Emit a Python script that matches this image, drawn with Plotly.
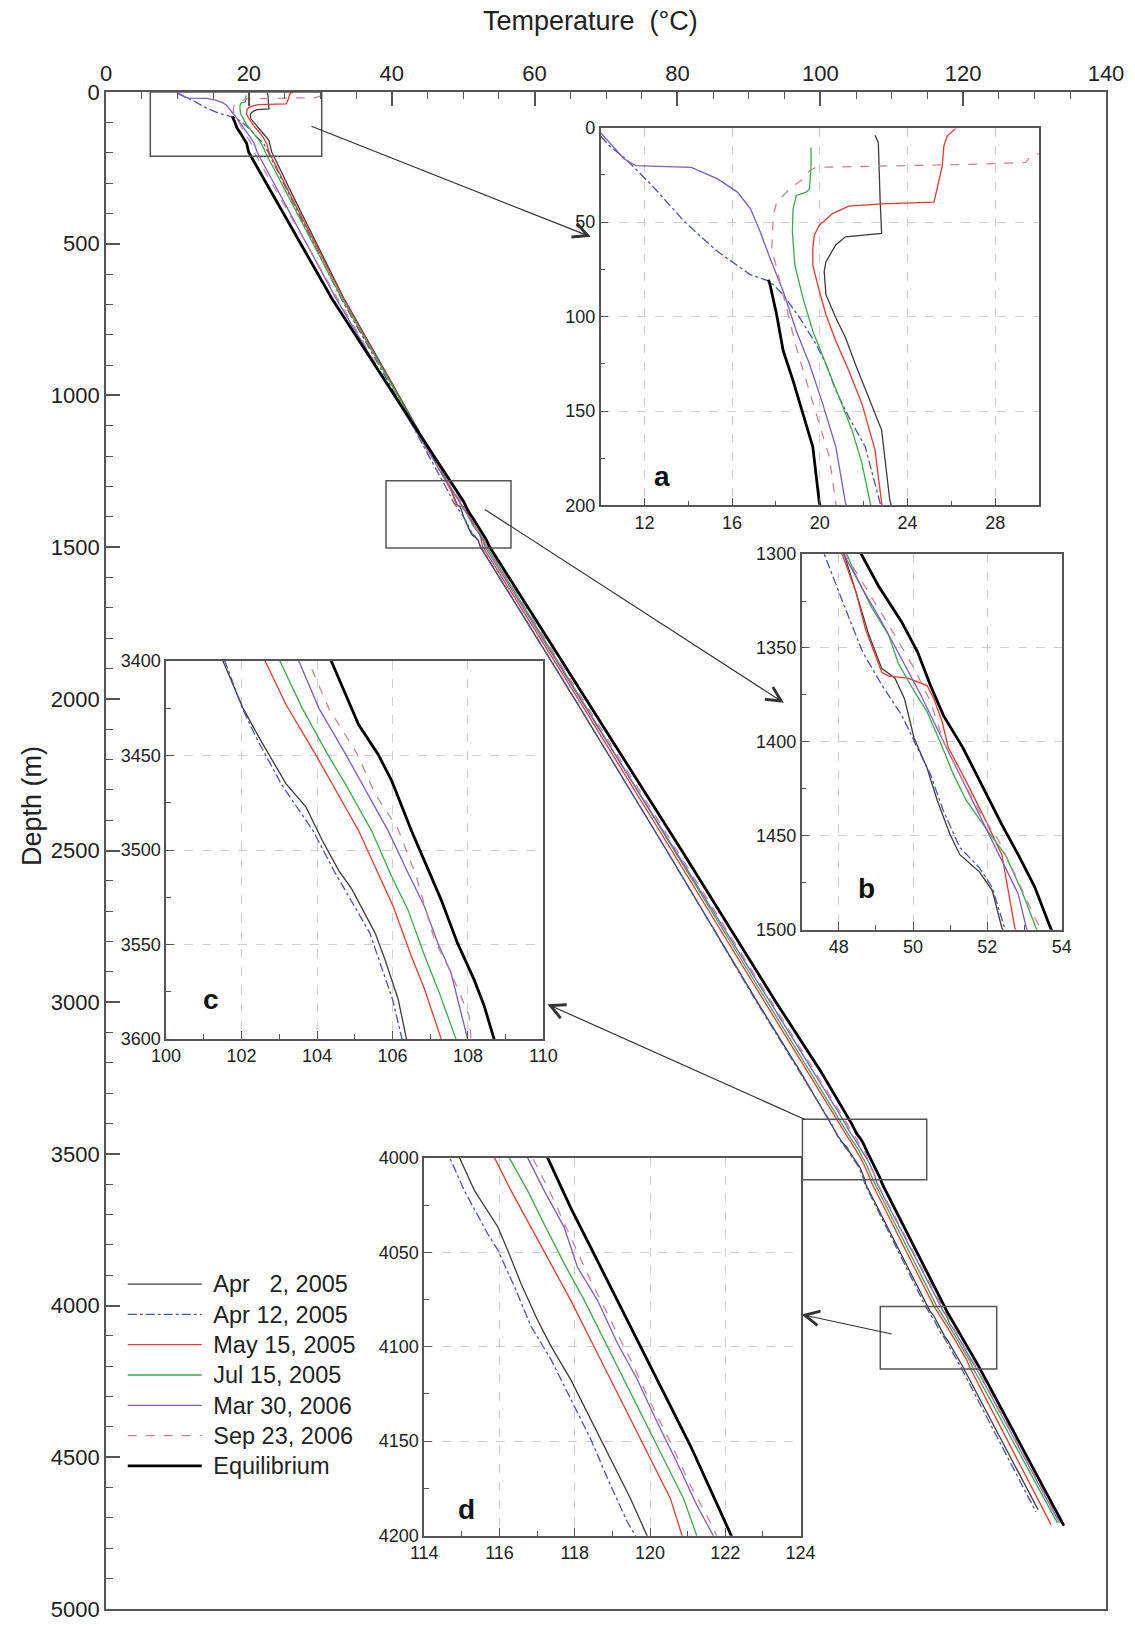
import plotly.graph_objects as go

# ---------------- data (depth in m, temperature in °C) ----------------
series_names = ["Apr\u00a0\u20072, 2005", "Apr 12, 2005", "May 15, 2005", "Jul 15, 2005",
                "Mar 30, 2006", "Sep 23, 2006", "Equilibrium"]

apr2_depth = [4.0, 7.9, 37.6, 56.0, 57.8, 62.1, 70.9, 76.1, 88.4, 100.6, 111.1, 125.1, 142.6, 160.1, 196.9,
              353, 680, 1000,
              1301, 1320, 1343, 1361, 1366, 1377, 1398, 1414, 1431, 1449, 1460, 1469, 1479, 1499,
              2000, 2500, 3000, 3229,
              3401, 3425, 3441, 3465, 3477, 3495, 3511, 3521, 3544, 3558, 3579, 3600,
              4000, 4017.5, 4036.7, 4049, 4066.5, 4085.8, 4099.8, 4117.3, 4145.3, 4166.3, 4180.3, 4200,
              4673]
apr2_temp = [22.52, 22.67, 22.75, 22.82, 21.17, 20.73, 20.28, 20.20, 20.28, 20.73, 21.17, 21.62, 22.22, 22.82, 23.19,
             26.4, 33.3, 41.0,
             48.16, 48.46, 48.81, 49.16, 49.51, 49.77, 50.03, 50.38, 50.65, 50.99, 51.26, 51.78, 52.13, 52.39,
             65.6, 78.5, 91.2, 97.2,
             101.53, 102.04, 102.48, 103.18, 103.70, 104.14, 104.58, 104.93, 105.54, 105.80, 106.15, 106.37,
             114.94, 115.34, 115.96, 116.22, 116.57, 117.01, 117.37, 117.89, 118.60, 119.13, 119.48, 119.92,
             130.5]

apr12_depth = [4.4, 9.6, 16.6, 30.6, 49.9, 65.6, 77.9, 81.4, 88.4, 100.6, 114.6, 125.1, 139.1, 153.1, 168.9, 196.9,
               680, 1000,
               1301, 1325.6, 1352, 1369.7, 1385.6, 1403.2, 1417.4, 1436.8, 1456.2, 1466.8, 1477.4, 1500,
               2000, 2500, 3000,
               3401, 3425, 3441, 3465, 3490, 3511, 3544, 3579, 3600,
               4000, 4017.5, 4040.3, 4049, 4068.3, 4089.3, 4106.8, 4127.8, 4148.8, 4173.3, 4192.5, 4200,
               4680]
apr12_temp = [10.0, 10.4, 11.15, 12.35, 13.84, 15.34, 16.84, 17.73, 18.33, 19.08, 19.83, 20.28, 20.73, 21.32, 22.07, 22.67,
              32.9, 40.6,
              47.63, 48.11, 48.64, 49.16, 49.69, 50.12, 50.47, 50.82, 51.26, 51.78, 52.13, 52.48,
              65.6, 78.5, 91.1,
              101.58, 102.02, 102.40, 103.05, 103.90, 104.45, 105.40, 106.00, 106.25,
              114.68, 115.07, 115.69, 115.96, 116.40, 116.84, 117.37, 117.89, 118.42, 118.95, 119.39, 119.61,
              130.2]

may15_depth = [0.5, 4.4, 9.6, 20.1, 39.4, 40.3, 41.5, 45.5, 51.6, 56.9, 63.9, 72.6, 86.6, 98.9, 112.9, 128.6, 146.1, 170.6, 198.6,
               353, 680, 1000,
               1301, 1320, 1340, 1354, 1363, 1365, 1366, 1370, 1377, 1389, 1403, 1421, 1442, 1460, 1499,
               2000, 2500, 3000,
               3401, 3423.1, 3449.4, 3465.1, 3489.7, 3512.4, 3529.9, 3556.2, 3573.7, 3600,
               4000, 4017.5, 4036.8, 4056, 4075.3, 4096.3, 4117.3, 4138.3, 4159.3, 4180.3, 4200,
               4722]
may15_temp = [26.19, 25.81, 25.66, 25.59, 25.21, 22.82, 21.32, 20.58, 19.98, 19.75, 19.68, 19.68, 19.98, 20.28, 20.73, 21.32, 21.92, 22.52, 22.82,
              26.1, 33.2, 40.9,
              48.11, 48.46, 48.72, 48.99, 49.16, 49.34, 49.86, 50.38, 50.56, 50.78, 50.95, 51.43, 51.96, 52.39, 52.74,
              66.1, 79.2, 92.2,
              102.65, 103.18, 103.96, 104.40, 105.10, 105.62, 106.02, 106.50, 106.85, 107.29,
              115.87, 116.31, 116.84, 117.37, 117.89, 118.42, 118.95, 119.48, 120.01, 120.54, 120.85,
              132.3]

jul15_depth = [10.5, 20.1, 32.4, 34.1, 35.9, 42.9, 55.1, 72.6, 90.1, 107.6, 125.1, 142.6, 160.1, 177.6, 198.6,
               680, 1000,
               1301, 1311.5, 1329, 1343, 1358, 1373, 1384, 1400, 1417, 1431, 1446, 1460, 1479, 1499,
               2000, 2500, 3000,
               3401, 3425, 3449, 3465, 3490, 3514.2, 3531.7, 3556, 3575.5, 3600,
               4000, 4017.5, 4036.8, 4056, 4075.3, 4096.3, 4117.3, 4138.3, 4159.3, 4180.3, 4200,
               4716]
jul15_temp = [19.60, 19.60, 19.53, 19.38, 18.93, 18.78, 18.75, 18.86, 19.23, 19.68, 20.28, 20.88, 21.47, 21.92, 22.30,
              33.0, 40.8,
              48.24, 48.46, 48.90, 49.34, 49.60, 50.03, 50.38, 50.73, 51.08, 51.43, 51.96, 52.48, 52.92, 53.31,
              66.5, 79.6, 92.6,
              103.04, 103.61, 104.27, 104.75, 105.45, 105.98, 106.41, 106.85, 107.24, 107.68,
              116.26, 116.75, 117.23, 117.72, 118.25, 118.78, 119.30, 119.83, 120.36, 120.89, 121.24,
              133.2]

mar30_depth = [2.6, 9.6, 16.6, 20.1, 21.0, 27.1, 34.1, 42.9, 55.1, 69.1, 86.6, 107.6, 125.1, 146.1, 168.9, 198.6,
               680, 1000,
               1301, 1318.5, 1336.2, 1355.6, 1375, 1396.2, 1417.4, 1438.6, 1459.7, 1480.9, 1499,
               2000, 2500, 3000,
               3401, 3425, 3449, 3465, 3490, 3512, 3530, 3549.2, 3565, 3600,
               4000, 4017.5, 4036.8, 4057.8, 4075.3, 4098, 4117.3, 4140, 4161, 4183.8, 4200,
               4716]
mar30_temp = [10.0, 10.55, 11.08, 11.60, 14.14, 15.34, 16.24, 16.84, 17.28, 17.73, 18.33, 18.93, 19.53, 20.13, 20.73, 21.17,
              32.2, 40.3,
              48.16, 48.64, 49.16, 49.69, 50.21, 50.73, 51.26, 51.78, 52.31, 52.83, 53.05,
              66.4, 79.8, 93.0,
              103.54, 104.05, 104.75, 105.19, 105.89, 106.41, 106.85, 107.20, 107.55, 107.99,
              116.75, 117.19, 117.72, 118.07, 118.60, 119.13, 119.66, 120.19, 120.71, 121.24, 121.68,
              133.5]

sep23_depth = [13.0, 14.9, 18.4, 19.3, 21.0, 22.8, 27.1, 32.4, 39.4, 46.4, 63.9, 81.4, 98.9, 116.4, 133.9, 151.4, 174.1, 198.6,
               680, 1000,
               1301, 1320.3, 1343.2, 1360.9, 1378.5, 1399.7, 1417.4, 1436.8, 1452.7, 1470.3, 1493.3,
               2000, 2500, 3000,
               3401, 3425, 3449, 3470.4, 3489, 3514, 3547.5, 3565, 3587.7, 3600,
               4000, 4019.3, 4042, 4064.8, 4085.8, 4106.8, 4129.5, 4150.5, 4173.3, 4192.5, 4200,
               4716]
sep23_temp = [30.3, 29.63, 29.40, 27.3, 19.83, 19.53, 19.23, 18.63, 18.03, 17.88, 17.81, 18.18, 18.56, 18.93, 19.38, 19.83, 20.43, 20.73,
              32.4, 40.4,
              48.20, 48.81, 49.51, 50.03, 50.47, 50.82, 51.26, 51.78, 52.31, 52.74, 53.27,
              66.7, 80.0, 93.2,
              103.79, 104.31, 105.06, 105.54, 106.15, 106.63, 107.11, 107.55, 108.03, 108.08,
              116.88, 117.37, 117.89, 118.42, 118.95, 119.48, 120.01, 120.54, 121.07, 121.59, 121.77,
              133.6]

equil_depth = [80.5, 83.1, 98.9, 118.1, 133.9, 151.4, 168.9, 198.6,
               353, 500, 680, 1000,
               1301, 1317, 1336, 1352, 1370, 1386, 1403, 1424, 1444, 1460, 1477, 1499,
               2000, 2500, 3000, 3229,
               3401, 3433.6, 3449.4, 3463.4, 3489.7, 3514.2, 3526.4, 3549.2, 3568.5, 3582.5, 3600,
               4000, 4026.3, 4047.3, 4068.3, 4089.3, 4110.3, 4131.3, 4152.3, 4175, 4197.8,
               4725]
equil_temp = [17.66, 17.73, 18.03, 18.33, 18.78, 19.23, 19.68, 19.98,
              23.7, 27.3, 31.6, 40.4,
              48.62, 49.07, 49.69, 50.12, 50.47, 50.82, 51.34, 51.87, 52.39, 52.83, 53.27, 53.70,
              67.2, 80.6, 93.8, 100.1,
              104.40, 105.10, 105.62, 105.98, 106.50, 107.03, 107.29, 107.72, 108.16, 108.43, 108.69,
              117.28, 117.89, 118.42, 118.95, 119.48, 120.01, 120.54, 121.07, 121.59, 122.12,
              134.1]

# tick values
main_x_ticks = [0, 20, 40, 60, 80, 100, 120, 140]
main_y_ticks = [0, 500, 1000, 1500, 2000, 2500, 3000, 3500, 4000, 4500, 5000]

# ---------------- styling ----------------
series = [
    (series_names[0], apr2_depth, apr2_temp, "#3c3c3c", "solid", 1.3),
    (series_names[1], apr12_depth, apr12_temp, "#4a56a8", "dashdot", 1.3),
    (series_names[2], may15_depth, may15_temp, "#e8392f", "solid", 1.3),
    (series_names[3], jul15_depth, jul15_temp, "#3aaa48", "solid", 1.3),
    (series_names[4], mar30_depth, mar30_temp, "#7d5cbf", "solid", 1.3),
    (series_names[5], sep23_depth, sep23_temp, "#c7839b", "dash", 1.3),
    (series_names[6], equil_depth, equil_temp, "#000000", "solid", 2.8),
]

FONT = "Liberation Sans, Arial, sans-serif"
W, H = 1135, 1633
L, R, T, B = 106, 14, 92, 11
PW, PH = W - L - R, H - T - B


def px_to_paper_x(px):
    return (px - L) / PW


def px_to_paper_y(py):
    return (H - B - py) / PH


def px_to_tx(px):
    return (px - L) / PW * 140.0


def px_to_dy(py):
    return (py - T) / PH * 5000.0


fig = go.Figure()
axes = ["", "2", "3", "4", "5"]
for ai, a in enumerate(axes):
    for (name, d, t, c, dash, w) in series:
        fig.add_trace(go.Scatter(
            x=t, y=d, mode="lines",
            name="<span style='font-size:23.5px'>\u00a0" + name + "</span>",
            line=dict(color=c, dash=dash, width=w),
            xaxis="x" + a, yaxis="y" + a,
            showlegend=(ai == 0), hoverinfo="skip"))

axis_line = "#555555"
tickfont_main = dict(family=FONT, size=22, color="#222222")
tickfont_in = dict(family=FONT, size=18, color="#222222")

layout = dict(
    width=W, height=H,
    margin=dict(l=L, r=R, t=T, b=B, pad=0),
    paper_bgcolor="white", plot_bgcolor="rgba(0,0,0,0)",
    font=dict(family=FONT, color="#222222"),
    xaxis=dict(domain=[0, 1], range=[0, 140], side="top", tickvals=main_x_ticks,
               ticks="inside", ticklen=14, tickwidth=1.5, tickcolor=axis_line,
               minor=dict(dtick=5, ticks="inside", ticklen=7, tickwidth=1.3, tickcolor=axis_line, showgrid=False),
               showline=True, linecolor=axis_line, linewidth=1.8, mirror=True,
               showgrid=False, zeroline=False, tickfont=tickfont_main, anchor="y"),
    yaxis=dict(domain=[0, 1], range=[5000, 0], tickvals=main_y_ticks,
               ticks="inside", ticklen=14, tickwidth=1.5, tickcolor=axis_line,
               minor=dict(dtick=100, ticks="inside", ticklen=7, tickwidth=1.3, tickcolor=axis_line, showgrid=False),
               showline=True, linecolor=axis_line, linewidth=1.8, mirror=True,
               showgrid=False, zeroline=False, tickfont=tickfont_main, anchor="x"),
    legend=dict(x=px_to_paper_x(123), y=px_to_paper_y(1274), xanchor="left", yanchor="top",
                bgcolor="rgba(0,0,0,0)", font=dict(family=FONT, size=21, color="#222222"),
                itemwidth=74, tracegroupgap=0),
    showlegend=True,
)

# inset definitions: (pixel box, x range, y range, x dtick, x minor dtick)
insets = {
    "2": ((608, 1053, 128, 509), [10, 30], [200, 0], 4, 2),
    "3": ((812, 1076, 558, 937), [47, 54], [1500, 1300], 2, 1),
    "4": ((167, 550, 666, 1047), [100, 110], [3600, 3400], 2, 1),
    "5": ((429, 811, 1167, 1548), [114, 124], [4200, 4000], 2, 1),
}
for a, ((x0, x1, y0, y1), xr, yr, xd, xm) in insets.items():
    common = dict(ticks="inside", ticklen=8, tickwidth=1.3, tickcolor=axis_line,
                  showline=True, linecolor=axis_line, linewidth=1.6, mirror=True,
                  showgrid=True, gridcolor="#cfcfcf", griddash="dash", gridwidth=1,
                  zeroline=False, tickfont=tickfont_in)
    layout["xaxis" + a] = dict(domain=[px_to_paper_x(x0), px_to_paper_x(x1)], range=xr,
                               dtick=xd, tick0=0, anchor="y" + a,
                               minor=dict(dtick=xm, ticks="inside", ticklen=5, tickwidth=1.2,
                                          tickcolor=axis_line, showgrid=False),
                               **common)
    layout["yaxis" + a] = dict(domain=[px_to_paper_y(y1), px_to_paper_y(y0)], range=yr,
                               dtick=50, tick0=0, anchor="x" + a,
                               minor=dict(dtick=25, ticks="inside", ticklen=5, tickwidth=1.2,
                                          tickcolor=axis_line, showgrid=False),
                               **common)

fig.update_layout(**layout)

# zoom rectangles on main plot
rects = [(6.2, 30.2, 0, 212), (39.2, 56.7, 1281, 1503), (97.5, 114.9, 3386, 3585), (108.4, 124.7, 4003, 4209)]
for (xa, xb, ya, yb) in rects:
    fig.add_shape(type="rect", xref="x", yref="y", x0=xa, x1=xb, y0=ya, y1=yb,
                  line=dict(color="#555555", width=1.5), fillcolor="rgba(0,0,0,0)")

# arrows (tail pixel -> head pixel)
arrows = [((313, 126), (598, 238)), ((489, 512), (794, 708)),
          ((817, 1129), (554, 1012)), ((905, 1345), (812, 1325))]
for (tx, ty), (hx, hy) in arrows:
    fig.add_annotation(x=px_to_tx(hx), y=px_to_dy(hy), ax=px_to_tx(tx), ay=px_to_dy(ty),
                       xref="x", yref="y", axref="x", ayref="y", text="",
                       showarrow=True, arrowhead=5, arrowsize=2.4, arrowwidth=1.2,
                       arrowcolor="#333333", standoff=0)

# panel letters
for letter, (lx, ly) in {"a": (670, 480), "b": (878, 895), "c": (213, 1007), "d": (472, 1522)}.items():
    fig.add_annotation(x=px_to_paper_x(lx), y=px_to_paper_y(ly), xref="paper", yref="paper",
                       text="<b>%s</b>" % letter, showarrow=False, xanchor="center", yanchor="middle",
                       font=dict(family=FONT, size=28, color="#111111"))

# axis titles
fig.add_annotation(x=px_to_paper_x(598), y=px_to_paper_y(20), xref="paper", yref="paper",
                   text="Temperature\u00a0 (\u00b0C)", showarrow=False, xanchor="center", yanchor="middle",
                   font=dict(family=FONT, size=27, color="#222222"))
fig.add_annotation(x=px_to_paper_x(31), y=px_to_paper_y(812), xref="paper", yref="paper",
                   text="Depth (m)", showarrow=False, textangle=-90, xanchor="center", yanchor="middle",
                   font=dict(family=FONT, size=27, color="#222222"))

fig.write_html("out.html")
